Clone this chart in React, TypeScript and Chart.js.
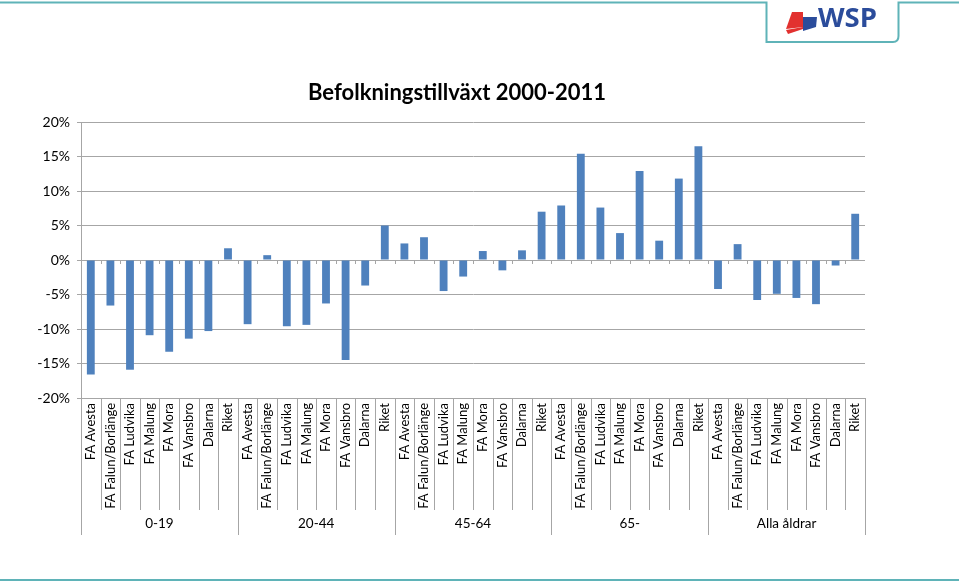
import React, { useEffect, useRef } from "react";
import { Chart, registerables } from "chart.js";

Chart.register(...registerables);

const categories = ["FA Avesta", "FA Falun/Borlänge", "FA Ludvika", "FA Malung", "FA Mora", "FA Vansbro", "Dalarna", "Riket"];
const groups = ["0-19", "20-44", "45-64", "65-", "Alla åldrar"];
const values0019 = [-16.6, -6.6, -15.9, -10.9, -13.3, -11.4, -10.3, 1.7];
const values2044 = [-9.3, 0.7, -9.6, -9.4, -6.3, -14.5, -3.7, 5.0];
const values4564 = [2.4, 3.3, -4.5, -2.4, 1.3, -1.5, 1.4, 7.0];
const values65 = [7.9, 15.4, 7.6, 3.9, 12.9, 2.8, 11.8, 16.5];
const valuesAll = [-4.2, 2.3, -5.8, -4.9, -5.5, -6.4, -0.8, 6.7];
const yTicks = [-20, -15, -10, -5, 0, 5, 10, 15, 20];
const title = "Befolkningstillväxt 2000-2011";

const FONT = "Lato, 'Liberation Sans', sans-serif";
const GRID = "#a6a6a6";

const groupPlugin = {
  id: "groupPlugin",
  afterDraw(chart: any) {
    const ctx = chart.ctx;
    const xs = chart.scales.x;
    const ys = chart.scales.y;
    const area = chart.chartArea;
    const n = xs.getLabels().length;
    const w = xs.getPixelForValue(1) - xs.getPixelForValue(0);
    const start = xs.getPixelForValue(0) - w / 2;
    const per = categories.length;
    const zeroY = ys.getPixelForValue(0);
    ctx.save();
    ctx.strokeStyle = GRID;
    ctx.lineWidth = 1;
    for (let k = 0; k <= n; k++) {
      const px = Math.round(start + k * w) + 0.5;
      const isGroup = k % per === 0;
      ctx.beginPath();
      ctx.moveTo(px, area.bottom);
      ctx.lineTo(px, area.bottom + (isGroup ? 137 : 112));
      ctx.stroke();
      if (k > 0 && k < n) {
        ctx.beginPath();
        ctx.moveTo(px, zeroY);
        ctx.lineTo(px, zeroY + 4);
        ctx.stroke();
      }
    }
    ctx.fillStyle = "#000";
    ctx.font = `13.5px ${FONT}`;
    ctx.textAlign = "center";
    ctx.textBaseline = "middle";
    groups.forEach((g, i) => {
      const cx = start + (i * per + per / 2) * w;
      ctx.fillText(g, cx, area.bottom + 126);
    });
    // title
    ctx.font = `bold 22px ${FONT}`;
    ctx.textBaseline = "alphabetic";
    ctx.fillText(title, 457, 100);
    ctx.restore();
  },
};

export default function App() {
  const ref = useRef<HTMLCanvasElement | null>(null);
  useEffect(() => {
    if (!ref.current) return;
    const labels: string[] = [];
    groups.forEach(() => categories.forEach((c) => labels.push(c)));
    const data = [...values0019, ...values2044, ...values4564, ...values65, ...valuesAll];
    const chart = new Chart(ref.current, {
      type: "bar",
      data: {
        labels,
        datasets: [
          {
            data,
            backgroundColor: "#4F81BD",
            categoryPercentage: 1,
            barPercentage: 0.4,
          },
        ],
      },
      options: {
        animation: false,
        responsive: false,
        maintainAspectRatio: false,
        layout: { padding: { top: 122, right: 94, bottom: 0, left: 0 } },
        plugins: {
          legend: { display: false },
          tooltip: { enabled: false },
          title: { display: false },
        },
        scales: {
          x: {
            type: "category",
            grid: { display: false, drawTicks: false },
            border: { display: false },
            ticks: {
              autoSkip: false,
              minRotation: 90,
              maxRotation: 90,
              padding: 5,
              color: "#000",
              font: { family: FONT, size: 13 },
            },
            afterFit(scale: any) {
              scale.height = 186;
            },
          },
          y: {
            min: -20,
            max: 20,
            afterBuildTicks(scale: any) {
              scale.ticks = yTicks.map((v) => ({ value: v }));
            },
            grid: { color: GRID, tickLength: 4, tickColor: GRID },
            border: { display: true, color: GRID },
            ticks: {
              padding: 7,
              color: "#000",
              font: { family: FONT, size: 14 },
              callback: (v: any) => `${v}%`,
            },
            afterFit(scale: any) {
              scale.width = 81;
            },
          },
        },
      },
      plugins: [groupPlugin],
    });
    return () => chart.destroy();
  }, []);

  const teal = "#5fb3b8";
  return (
    <div style={{ position: "absolute", left: 0, top: 0, width: 959, height: 584, background: "#fff" }}>
      <canvas ref={ref} width={959} height={584} style={{ position: "absolute", left: 0, top: 0 }} />
      <svg width={959} height={584} style={{ position: "absolute", left: 0, top: 0, pointerEvents: "none" }}>
        <path d="M0 2.5 H766.5 V42 H893 Q898.5 42 898.5 36 V2.5 H959" fill="none" stroke={teal} strokeWidth={2} />
        <line x1={0} y1={580} x2={959} y2={580} stroke={teal} strokeWidth={2} />
        <polygon points="792,12 803,12 803,27 786,29" fill="#e2312f" />
        <polygon points="803,17 817,17 816,27 803,27" fill="#2b4c9b" />
        <polygon points="786,30 803,27 803,29 788,34" fill="#e2312f" />
        <polygon points="803,27 816,27 803,31" fill="#2b4c9b" />
        <text x={818} y={27} fontFamily="'Open Sans', 'DejaVu Sans', sans-serif" fontWeight="bold" fontSize={27} textLength={59} lengthAdjust="spacingAndGlyphs" fill="#2b4c9b">WSP</text>
      </svg>
    </div>
  );
}
